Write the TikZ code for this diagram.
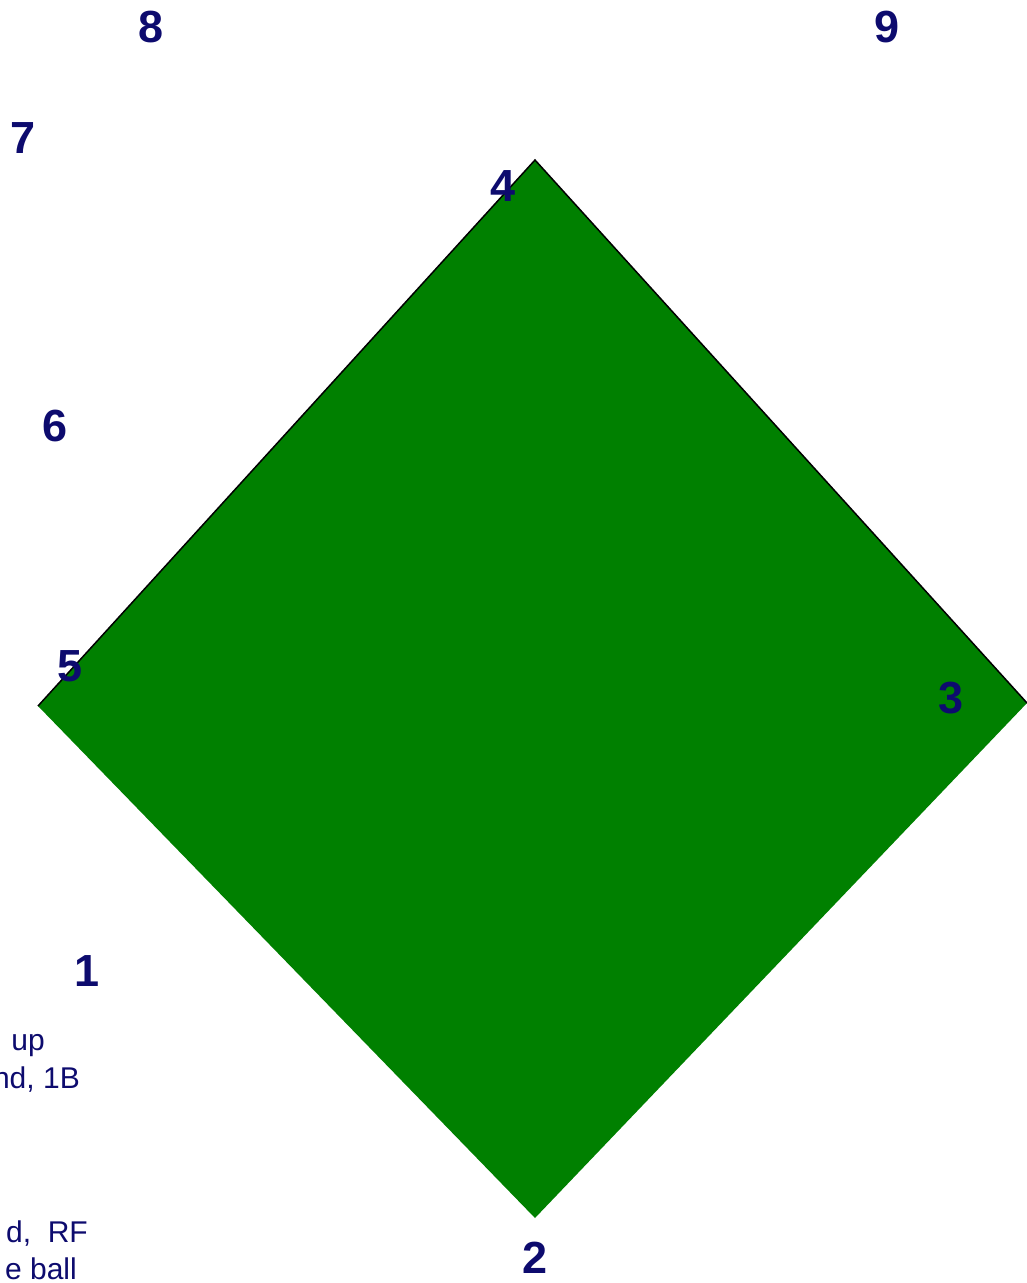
\documentclass[tikz,border=0pt]{standalone}
\usepackage{fontspec}
\setmainfont{Liberation Sans}
\definecolor{navy}{HTML}{0D0B6E}
\definecolor{field}{HTML}{008000}
\tikzset{
  num/.style={text=navy, font=\bfseries\fontsize{45}{45}\selectfont, inner sep=0pt},
  note/.style={text=navy, font=\fontsize{30}{30}\selectfont, inner sep=0pt, anchor=base east},
}
\begin{document}
\begin{tikzpicture}[x=1pt,y=-1pt]
\useasboundingbox (0,0) rectangle (1027,1283);
\clip (0,0) rectangle (1027,1283);
\coordinate (T) at (535,160);
\coordinate (R) at (1027,703);
\coordinate (B) at (535,1218);
\coordinate (L) at (38,706);
\fill[field] (T) -- (R) -- (B) -- (L) -- cycle;
\draw[black, line width=1.5pt, line join=miter] (L) -- (T) -- (R);
\node[num] (n8) at (151,27) {8};
\node[num] (n9) at (887,27) {9};
\node[num] (n7) at (23,138) {7};
\node[num] (n4) at (503,186) {4};
\node[num] (n6) at (55,426) {6};
\node[num] (n5) at (70,666) {5};
\node[num] (n3) at (951,698) {3};
\node[num] (n1) at (87,971) {1};
\node[num] (n2) at (535,1258) {2};
\node[note] (t1) at (45,1050) {up};
\node[note] (t2) at (80,1088) {nd, 1B};
\node[note] (t3) at (88,1242) {d,\ \ RF};
\node[note] (t4) at (77,1279) {e ball};
\end{tikzpicture}
\end{document}
